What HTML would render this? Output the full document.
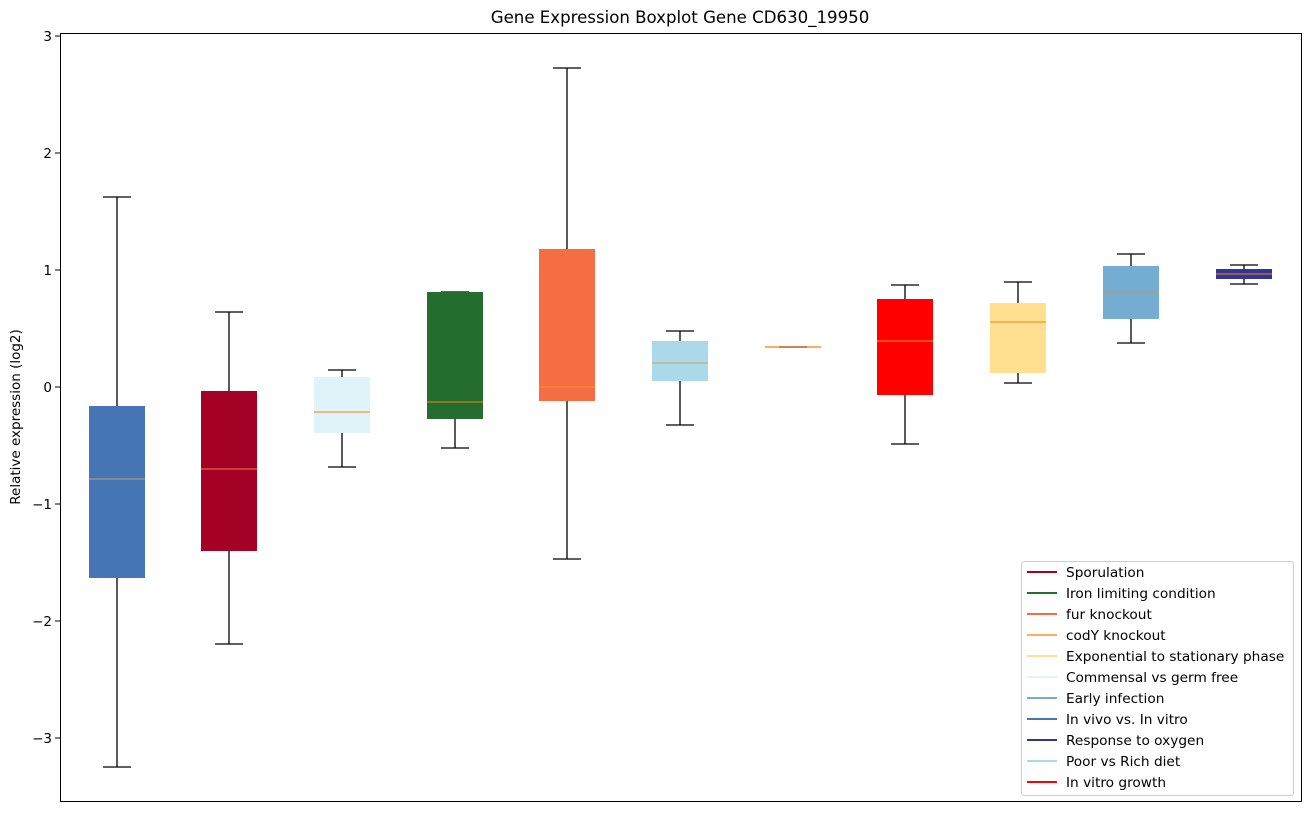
<!DOCTYPE html>
<html><head><style>body{margin:0;background:#fff}</style></head><body>
<svg width="1309" height="812" xmlns="http://www.w3.org/2000/svg" font-family="DejaVu Sans, Liberation Sans, sans-serif">
<rect width="1309" height="812" fill="#fff"/>
<text x="680" y="23" font-size="16.6" text-anchor="middle">Gene Expression Boxplot Gene CD630_19950</text>
<g stroke="#000" stroke-width="1">
<line x1="60" y1="36" x2="55" y2="36"/><line x1="60" y1="153" x2="55" y2="153"/><line x1="60" y1="270" x2="55" y2="270"/><line x1="60" y1="387" x2="55" y2="387"/><line x1="60" y1="504" x2="55" y2="504"/><line x1="60" y1="621" x2="55" y2="621"/><line x1="60" y1="738" x2="55" y2="738"/>
</g>
<g font-size="13.5" text-anchor="end">
<text x="52" y="41">3</text><text x="52" y="158">2</text><text x="52" y="275">1</text><text x="52" y="392">0</text><text x="52" y="509">−1</text><text x="52" y="626">−2</text><text x="52" y="743">−3</text>
</g>
<text transform="translate(20,417) rotate(-90)" font-size="13.5" text-anchor="middle">Relative expression (log2)</text>
<g stroke="#000" stroke-width="1.3" fill="none">
<path d="M117,767V578M117,406V197M103,767H131M103,197H131"/>
<path d="M229,644V551M229,391V312M215,644H243M215,312H243"/>
<path d="M342,467V433M342,377V370M328,467H356M328,370H356"/>
<path d="M455,448V419M441,448H469M441,292H469"/>
<path d="M567,559V401M567,249V68M553,559H581M553,68H581"/>
<path d="M680,425V381M680,341V331M666,425H694M666,331H694"/>
<path d="M779,347H807"/>
<path d="M905,444V395M905,299V285M891,444H919M891,285H919"/>
<path d="M1018,383V373M1018,303V282M1004,383H1032M1004,282H1032"/>
<path d="M1131,343V319M1131,266V254M1117,343H1145M1117,254H1145"/>
<path d="M1244,284V279M1244,269V265M1230,284H1258M1230,265H1258"/>
</g>
<g>
<rect x="89" y="406" width="56" height="172" fill="#4575b4"/><line x1="89" x2="145" y1="479" y2="479" stroke="#c8a070"/>
<rect x="201" y="391" width="56" height="160" fill="#a50026"/><line x1="201" x2="257" y1="469" y2="469" stroke="#f08040"/>
<rect x="314" y="377" width="56" height="56" fill="#e0f3f8"/><line x1="314" x2="370" y1="412" y2="412" stroke="#ff7f0e"/>
<rect x="427" y="292" width="56" height="127" fill="#236e2e"/><line x1="427" x2="483" y1="402" y2="402" stroke="#ff7f0e"/>
<rect x="539" y="249" width="56" height="152" fill="#f46d43"/><line x1="539" x2="595" y1="387" y2="387" stroke="#ff8f30"/>
<rect x="652" y="341" width="56" height="40" fill="#abd9e9"/><line x1="652" x2="708" y1="363" y2="363" stroke="#d0a060"/>
<rect x="765" y="346" width="56" height="2" fill="#fdae61"/><line x1="779" x2="807" y1="347" y2="347" stroke="#c08850" stroke-width="2"/>
<rect x="877" y="299" width="56" height="96" fill="#ff0000"/><line x1="877" x2="933" y1="341" y2="341" stroke="#ffa000"/>
<rect x="990" y="303" width="56" height="70" fill="#fee090"/><line x1="990" x2="1046" y1="322" y2="322" stroke="#ff7f0e"/>
<rect x="1103" y="266" width="56" height="53" fill="#74add1"/><line x1="1103" x2="1159" y1="292" y2="292" stroke="#d09060"/>
<rect x="1216" y="269" width="56" height="10" fill="#313695"/><line x1="1216" x2="1272" y1="274" y2="274" stroke="#ff7f0e"/>
</g>
<rect x="60.5" y="33.5" width="1241" height="768" fill="none" stroke="#000" stroke-width="1"/>
<rect x="1021.5" y="561.5" width="272" height="234" rx="3" fill="#fff" fill-opacity="0.9" stroke="#ccc"/>
<g stroke-width="2">
<line x1="1027" x2="1057" y1="572" y2="572" stroke="#a50026"/>
<line x1="1027" x2="1057" y1="593" y2="593" stroke="#236e2e"/>
<line x1="1027" x2="1057" y1="614" y2="614" stroke="#f46d43"/>
<line x1="1027" x2="1057" y1="635" y2="635" stroke="#fdae61"/>
<line x1="1027" x2="1057" y1="656" y2="656" stroke="#fee090"/>
<line x1="1027" x2="1057" y1="677" y2="677" stroke="#e0f3f8"/>
<line x1="1027" x2="1057" y1="698" y2="698" stroke="#74add1"/>
<line x1="1027" x2="1057" y1="719" y2="719" stroke="#4575b4"/>
<line x1="1027" x2="1057" y1="740" y2="740" stroke="#313695"/>
<line x1="1027" x2="1057" y1="761" y2="761" stroke="#abd9e9"/>
<line x1="1027" x2="1057" y1="782" y2="782" stroke="#ff0000"/>
</g>
<g font-size="13.7">
<text x="1066" y="577">Sporulation</text>
<text x="1066" y="598">Iron limiting condition</text>
<text x="1066" y="619">fur knockout</text>
<text x="1066" y="640">codY knockout</text>
<text x="1066" y="661">Exponential to stationary phase</text>
<text x="1066" y="682">Commensal vs germ free</text>
<text x="1066" y="703">Early infection</text>
<text x="1066" y="724">In vivo vs. In vitro</text>
<text x="1066" y="745">Response to oxygen</text>
<text x="1066" y="766">Poor vs Rich diet</text>
<text x="1066" y="787">In vitro growth</text>
</g>
</svg>
</body></html>
